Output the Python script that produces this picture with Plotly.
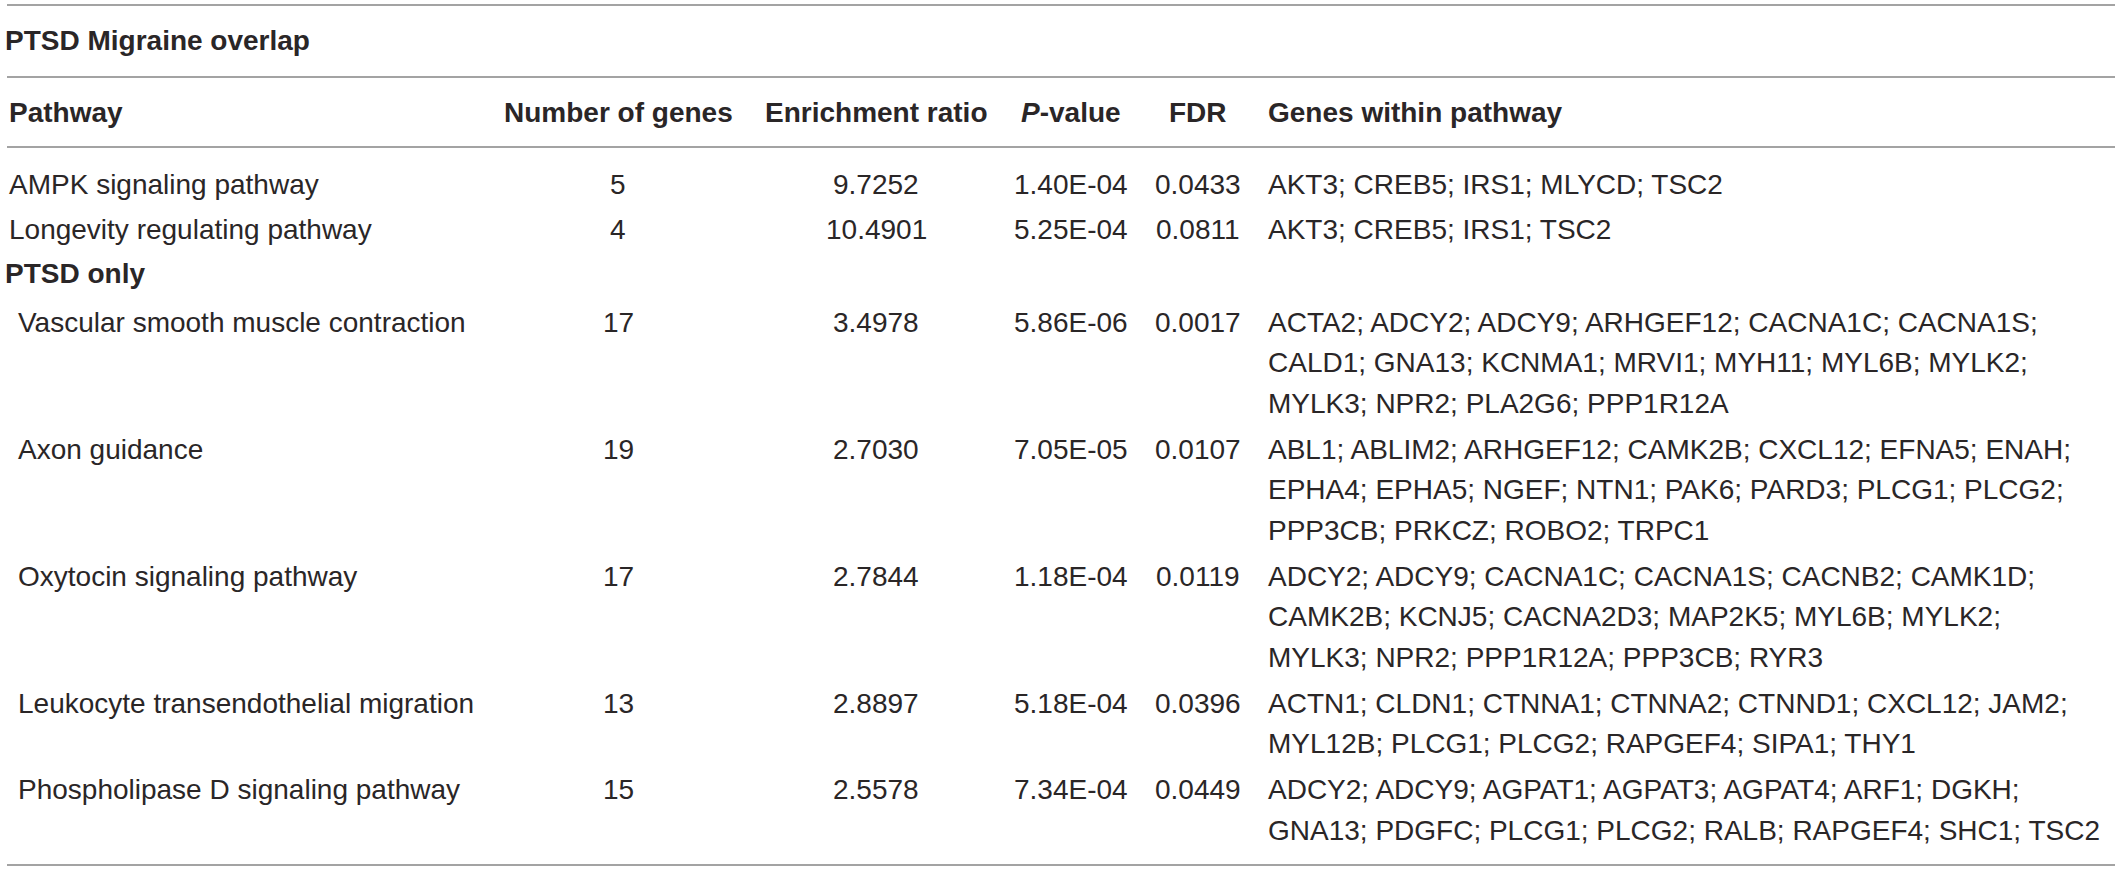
import plotly.graph_objects as go

# --- table content ---
sections = ["PTSD Migraine overlap", "PTSD only"]
section_of_row = [0, 0, 1, 1, 1, 1, 1]

headers = ["Pathway", "Number of genes", "Enrichment ratio",
           "<i>P</i>-value", "FDR", "Genes within pathway"]

pathways = [
    "AMPK signaling pathway",
    "Longevity regulating pathway",
    "Vascular smooth muscle contraction",
    "Axon guidance",
    "Oxytocin signaling pathway",
    "Leukocyte transendothelial migration",
    "Phospholipase D signaling pathway",
]
n_genes = [5, 4, 17, 19, 17, 13, 15]
enrichment = [9.7252, 10.4901, 3.4978, 2.7030, 2.7844, 2.8897, 2.5578]
p_values = [1.40e-04, 5.25e-04, 5.86e-06, 7.05e-05, 1.18e-04, 5.18e-04, 7.34e-04]
fdr = [0.0433, 0.0811, 0.0017, 0.0107, 0.0119, 0.0396, 0.0449]
genes = [
    ["AKT3; CREB5; IRS1; MLYCD; TSC2"],
    ["AKT3; CREB5; IRS1; TSC2"],
    ["ACTA2; ADCY2; ADCY9; ARHGEF12; CACNA1C; CACNA1S;",
     "CALD1; GNA13; KCNMA1; MRVI1; MYH11; MYL6B; MYLK2;",
     "MYLK3; NPR2; PLA2G6; PPP1R12A"],
    ["ABL1; ABLIM2; ARHGEF12; CAMK2B; CXCL12; EFNA5; ENAH;",
     "EPHA4; EPHA5; NGEF; NTN1; PAK6; PARD3; PLCG1; PLCG2;",
     "PPP3CB; PRKCZ; ROBO2; TRPC1"],
    ["ADCY2; ADCY9; CACNA1C; CACNA1S; CACNB2; CAMK1D;",
     "CAMK2B; KCNJ5; CACNA2D3; MAP2K5; MYL6B; MYLK2;",
     "MYLK3; NPR2; PPP1R12A; PPP3CB; RYR3"],
    ["ACTN1; CLDN1; CTNNA1; CTNNA2; CTNND1; CXCL12; JAM2;",
     "MYL12B; PLCG1; PLCG2; RAPGEF4; SIPA1; THY1"],
    ["ADCY2; ADCY9; AGPAT1; AGPAT3; AGPAT4; ARF1; DGKH;",
     "GNA13; PDGFC; PLCG1; PLCG2; RALB; RAPGEF4; SHC1; TSC2"],
]

W, H = 2119, 872
FONT = "Liberation Sans, Arial, sans-serif"
FS = 28
INK = "#2a2627"
RULE = "#a3a3a3"

# column anchors (px): left-aligned text cols use x as left edge, others are centred
col_x = [7, 618, 876, 1071, 1198, 1266]
col_anchor = ["left", "center", "center", "center", "center", "left"]
line_step = 40.75   # spacing of wrapped lines inside one cell
row_gap = 45.5      # from last line of a row to first line of the next
section_gap = 47    # from a section label to its first row


def main():
    fig = go.Figure()

    def label(x, y, text, anchor="left", bold=False):
        if bold:
            text = "<b>" + text + "</b>"
        fig.add_annotation(
            x=x, y=y, xref="x", yref="y", text=text,
            xanchor=anchor, yanchor="middle", showarrow=False,
            font=dict(family=FONT, size=FS, color=INK),
        )

    def rule(y):
        fig.add_shape(type="line", xref="x", yref="y", x0=7, x1=W - 4,
                      y0=y, y1=y, line=dict(color=RULE, width=2))

    # horizontal rules
    for y in [5, 77, 147]:
        rule(y)

    # first section title and header row
    label(3, 40, sections[0], bold=True)
    for i, h in enumerate(headers):
        label(col_x[i], 112, h, anchor=col_anchor[i], bold=True)

    y = 184
    current = 0
    for i in range(len(pathways)):
        sec = section_of_row[i]
        if sec != current:
            label(3, y - 2, sections[sec], bold=True)
            y += section_gap
            current = sec
        indent = 16 if sec > 0 else col_x[0]
        label(indent, y, pathways[i])
        label(col_x[1], y, str(n_genes[i]), anchor="center")
        label(col_x[2], y, f"{enrichment[i]:.4f}", anchor="center")
        label(col_x[3], y, f"{p_values[i]:.2E}", anchor="center")
        label(col_x[4], y, f"{fdr[i]:.4f}", anchor="center")
        for k, line in enumerate(genes[i]):
            label(col_x[5], y + k * line_step, line)
        last_line = y + (len(genes[i]) - 1) * line_step
        y = last_line + row_gap

    # bottom rule sits just below the last line
    rule(last_line + 35)

    fig.update_layout(
        width=W, height=H,
        margin=dict(l=0, r=0, t=0, b=0),
        paper_bgcolor="white", plot_bgcolor="white",
        xaxis=dict(range=[0, W], visible=False, fixedrange=True),
        yaxis=dict(range=[H, 0], visible=False, fixedrange=True),
        showlegend=False,
    )

    # drop the default page margin so the table starts at the window corner
    fig.write_html("out.html", config={"displayModeBar": False},
                   post_script="document.body.style.margin='0';")


if __name__ == "__main__":
    main()
